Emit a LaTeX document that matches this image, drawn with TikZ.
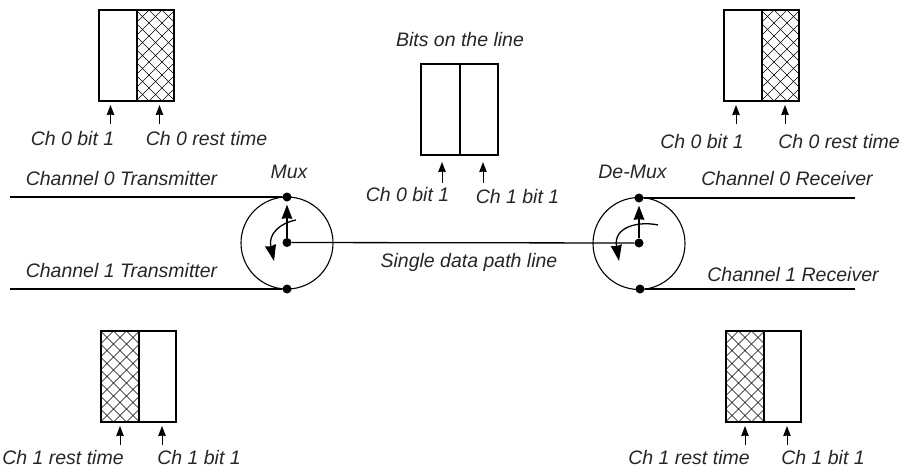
\documentclass[tikz,border=0pt]{standalone}
\usepackage{fontspec}
\setmainfont{Liberation Sans}
\usetikzlibrary{arrows.meta}
\tikzset{
  x=1pt,y=-1pt,
  cell/.style={draw=black,line width=1.5pt,minimum height=91pt,inner sep=0pt,outer sep=0pt,anchor=north west},
  hatch/.style={cell,path picture={
    \foreach \k in {-16,...,16}{
      \draw[line width=0.6pt,black]
        ([xshift=\k*13pt-100pt,yshift=-100pt]path picture bounding box.center) -- ++(200pt,200pt)
        ([xshift=\k*13pt-100pt,yshift=100pt]path picture bounding box.center) -- ++(200pt,-200pt);
    }}},
  lab/.style={font=\itshape\fontsize{19.5}{22}\selectfont,text=black!85,anchor=base,inner sep=0pt},
  pointer/.style={-{Stealth[length=10pt,width=7.5pt,inset=0.5pt]},line width=1pt},
  wire/.style={line width=1.6pt},
  ring/.style={draw,circle,line width=1.1pt,minimum size=92pt,inner sep=0pt},
  dot/.style={circle,fill=black,minimum size=9pt,inner sep=0pt},
  swing/.style={-{Stealth[length=16pt,width=11pt,inset=1pt]},line width=1.3pt},
  arm/.style={-{Stealth[length=14pt,width=10.5pt,inset=0.5pt]},line width=1.3pt,shorten >=3pt},
}
\begin{document}
\begin{tikzpicture}
\useasboundingbox (0,0) rectangle (904,469);

% circles
\node[ring] (mr) at (287,243) {};
\node[ring] (dr) at (639,243.5) {};

% terminal dots
\node[dot] (m0) at (287,197) {};
\node[dot] (m1) at (287,289) {};
\node[dot] (mc) at (287,242.5) {};
\node[dot] (d0) at (639,198) {};
\node[dot] (d1) at (640,289) {};
\node[dot] (dc) at (639,243) {};
\coordinate (t0) at (10,197);
\coordinate (t1) at (10,289);
\coordinate (r0) at (855,198);
\coordinate (r1) at (855,289);

\draw[wire] (t0) -- (m0);
\draw[wire] (t1) -- (m1);
\draw[wire] (r0) -- (d0);
\draw[wire] (r1) -- (d1);
\draw[line width=1.3pt] (mc) -- (dc);
\draw[arm] (mc) -- (m0);
\draw[arm] (dc) -- (d0);

% switch sweep arcs
\coordinate (ms) at (296,220);
\coordinate (me) at (274,261);
\coordinate (ds) at (658,225);
\coordinate (de) at (619,261);
\draw[swing] (ms) .. controls (280,223) and (268,234) .. (me);
\draw[swing] (ds) .. controls (640,221) and (613,226) .. (de);

% top-left box
\node[cell,minimum width=38pt] (a0) at (99,10) {};
\node[hatch,minimum width=37pt] (a1) at (137,10) {};
% top-right box
\node[cell,minimum width=38pt] (b0) at (724,10) {};
\node[hatch,minimum width=37pt] (b1) at (762,10) {};
% middle box
\node[cell,minimum width=39pt,line width=1.1pt] (c0) at (421,64) {};
\node[cell,minimum width=38pt,line width=1.1pt] (c1) at (460,64) {};
% bottom-left box
\node[hatch,minimum width=38pt] (e0) at (101,331) {};
\node[cell,minimum width=37pt] (e1) at (139,331) {};
% bottom-right box
\node[hatch,minimum width=38pt] (f0) at (726,331) {};
\node[cell,minimum width=37pt] (f1) at (764,331) {};

% labels
\node[lab] (tx0) at (121.5,185) {Channel 0 Transmitter};
\node[lab] (tx1) at (121.5,277) {Channel 1 Transmitter};
\node[lab] (mux) at (289,178) {Mux};
\node[lab] (dmx) at (632.5,178) {De-Mux};
\node[lab] (rx0) at (787,185) {Channel 0 Receiver};
\node[lab] (rx1) at (793,281) {Channel 1 Receiver};
\node[lab] (sdp) at (469,267) {Single data path line};
\node[lab] (bol) at (460,46) {Bits on the line};

\node[lab] (la0) at (72.5,145) {Ch 0 bit 1};
\node[lab] (la1) at (206.5,145) {Ch 0 rest time};
\node[lab] (lb0) at (702,148) {Ch 0 bit 1};
\node[lab] (lb1) at (839,148) {Ch 0 rest time};
\node[lab] (lc0) at (407.5,201) {Ch 0 bit 1};
\node[lab] (lc1) at (517.5,203) {Ch 1 bit 1};
\node[lab] (le0) at (63,464) {Ch 1 rest time};
\node[lab] (le1) at (199,464) {Ch 1 bit 1};
\node[lab] (lf0) at (689,464) {Ch 1 rest time};
\node[lab] (lf1) at (823,464) {Ch 1 bit 1};

% pointers
\foreach \n/\x/\yb/\yt in {pa0/110.5/124/105, pa1/159.5/124/105, pb0/736/124/105, pb1/785/124/105,
  pc0/442/183/162, pc1/483/183/162, pe0/120/445/426, pe1/162/445/426, pf0/745/445/426, pf1/787/445/426}{
  \coordinate (\n s) at (\x,\yb);
  \coordinate (\n t) at (\x,\yt);
  \draw[pointer] (\n s) -- (\n t);
}
\end{tikzpicture}
\end{document}
